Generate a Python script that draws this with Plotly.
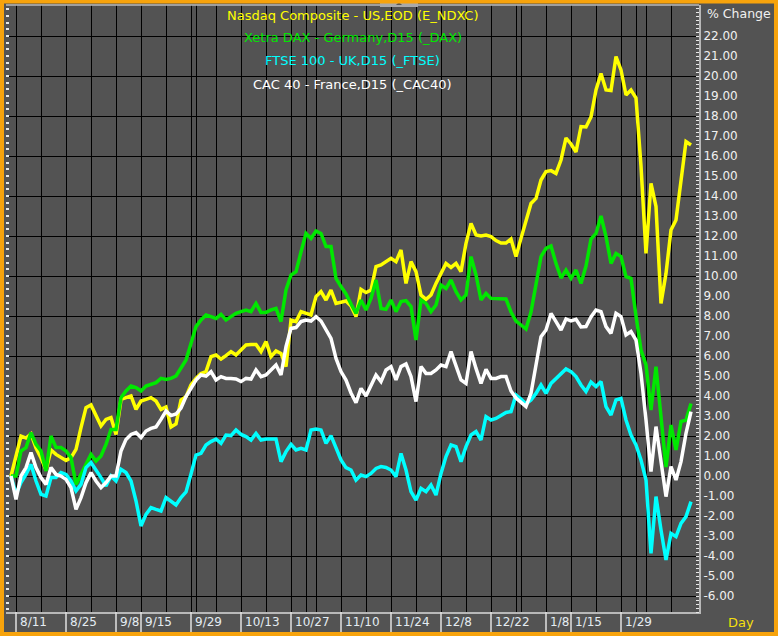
import plotly.graph_objects as go

# ---------------- data (percent change, one value per trading day) ----------------
nasdaq = [0, 1.0, 2.0, 1.9, 2.1, 1.4, 0.9, 0.3, 1.3, 1.08, 0.92, 0.78, 0.92, 1.33, 2.42, 3.42, 3.55, 3.0, 2.5, 2.83,
          2.92, 2.08, 3.83, 3.92, 4.0, 3.33, 3.75, 3.83, 3.92, 3.75, 3.33, 3.45, 2.45, 2.6, 3.8, 3.97, 4.55, 4.88, 5.13, 5.22,
          5.97, 6.05, 5.85, 6.02, 6.22, 6.05, 6.3, 6.55, 6.58, 6.58, 6.22, 6.72, 5.97, 6.25, 6.13, 5.47, 7.8, 7.72, 8.22, 8.13,
          8.05, 8.97, 9.22, 8.8, 9.3, 8.63, 8.68, 8.75, 8.5, 7.97, 9.33, 9.17, 9.3, 10.47, 10.55, 10.72, 10.88, 10.72, 11.3, 9.63,
          10.72, 10.22, 9.05, 8.83, 9.05, 9.63, 10.13, 10.63, 10.43, 10.63, 10.22, 11.63, 12.63, 12.05, 12.0, 12.05, 11.97, 11.77, 11.65, 11.65,
          11.85, 10.97, 11.88, 12.8, 13.63, 13.88, 14.8, 15.22, 15.27, 15.13, 15.8, 16.9, 16.6, 16.2, 17.47, 17.45, 17.95, 19.3, 20.13, 19.3,
          19.27, 20.97, 20.3, 19.05, 19.3, 18.9, 15.5, 11.13, 14.63, 13.47, 8.63, 10.13, 12.3, 12.8, 14.8, 16.72, 16.55]

dax = [0, 0, 1.25, 1.42, 2.17, 1.58, 1.25, 0.25, 2.0, 1.42, 1.42, 1.25, 0.92, -0.42, 0.08, 0.58, 1.08, 0.75, 1.0, 1.58,
       2.33, 2.33, 3.92, 4.25, 4.5, 4.42, 4.25, 4.5, 4.58, 4.67, 4.88, 4.83, 4.88, 5.0, 5.4, 5.8, 6.63, 7.47, 7.8, 8.05,
       7.97, 7.88, 8.08, 7.8, 7.97, 8.13, 8.22, 8.3, 8.22, 8.63, 8.18, 8.18, 8.3, 8.38, 7.72, 9.3, 10.05, 10.22, 11.2, 12.13,
       11.88, 12.25, 12.13, 11.47, 11.47, 9.88, 9.47, 9.1, 8.6, 8.13, 8.8, 8.3, 8.88, 9.8, 8.38, 8.33, 8.8, 8.22, 8.72, 8.77,
       8.47, 6.8, 8.8, 8.63, 8.22, 8.55, 9.55, 9.38, 9.8, 9.22, 8.8, 9.05, 10.97, 10.05, 8.8, 9.13, 8.88, 8.88, 8.88, 8.85,
       8.2, 7.75, 7.55, 7.35, 8.2, 9.63, 10.97, 11.38, 11.5, 10.63, 9.9, 10.3, 9.88, 10.3, 9.63, 10.5, 11.85, 12.13, 13.0, 11.97,
       10.63, 11.13, 10.97, 9.97, 9.88, 8.0, 6.3, 5.55, 3.3, 5.47, 2.8, 0.45, 2.55, 1.3, 2.72, 2.8, 3.63]

ftse = [0, -0.92, -0.33, 0.08, 0.58, -0.25, -0.92, -1.0, -0.08, -0.08, 0.17, 0.08, -0.25, -0.75, -0.42, 0.42, 0.67, 0.33, -0.08, -0.5,
        0, -0.25, 0.33, 0.17, -0.25, -1.25, -2.5, -1.92, -1.58, -1.67, -1.75, -1.08, -1.25, -1.45, -1.08, -0.8, 0.1, 1.05, 1.13, 1.55,
        1.72, 1.85, 1.63, 2.05, 2.02, 2.3, 2.08, 1.97, 1.8, 2.13, 1.8, 1.85, 1.85, 1.85, 0.72, 1.22, 1.58, 1.3, 1.38, 1.3,
        2.3, 2.35, 2.3, 1.63, 2.02, 1.38, 0.8, 0.42, 0.3, -0.2, 0.05, -0.03, 0.13, 0.38, 0.47, 0.43, 0.3, -0.03, 1.13, 0.3,
        -0.78, -1.2, -0.62, -0.78, -0.45, -0.95, 0.13, 0.97, 1.55, 1.47, 0.72, 1.47, 2.05, 2.22, 1.8, 2.97, 2.8, 2.88, 3.03, 3.18,
        3.22, 4.05, 3.85, 3.6, 3.8, 4.13, 4.55, 4.13, 4.63, 4.88, 5.1, 5.35, 5.22, 4.97, 4.55, 4.22, 4.7, 4.47, 4.72, 3.47,
        3.05, 3.8, 3.88, 2.8, 2.05, 1.55, 0.8, -0.2, -3.87, -1.03, -2.7, -4.2, -2.87, -3.03, -2.37, -2.03, -1.28]

cac = [0, -1.17, 0, 0.42, 1.17, 0.42, -0.08, -0.42, 0.42, 0.08, 0, -0.17, -0.58, -1.67, -1.08, -0.33, 0.17, -0.25, -0.58, -0.33,
       0, 0, 1.25, 1.83, 2.08, 2.17, 1.92, 2.25, 2.38, 2.45, 2.83, 3.25, 3.02, 3.1, 3.4, 3.97, 4.38, 4.8, 5.05, 5.0,
       5.22, 4.8, 4.97, 4.88, 4.88, 4.85, 4.72, 4.88, 4.85, 5.3, 4.97, 5.05, 5.3, 5.55, 5.05, 6.47, 7.38, 7.42, 7.72, 7.8,
       7.75, 7.97, 7.75, 7.3, 6.88, 5.88, 5.22, 4.8, 4.15, 3.67, 4.38, 4.0, 4.55, 5.05, 4.72, 5.3, 5.47, 4.8, 5.47, 5.6,
       4.97, 3.72, 5.47, 5.13, 5.13, 5.3, 5.55, 5.47, 6.22, 5.47, 4.8, 4.63, 6.22, 5.38, 4.63, 5.33, 4.88, 4.88, 4.97, 4.97,
       4.25, 3.9, 3.68, 3.47, 4.13, 5.63, 6.97, 7.3, 8.13, 7.72, 7.3, 7.85, 7.75, 7.83, 7.45, 7.47, 7.95, 8.3, 8.22, 7.47,
       7.13, 8.13, 7.97, 7.05, 7.22, 6.8, 5.13, 2.8, 0.22, 2.47, 0.63, -1.03, 0.47, -0.2, 0.72, 2.13, 3.22]

series_names = ["Nasdaq Composite - US,EOD (E_NDXC)", "Xetra DAX - Germany,D15 (_DAX)",
                "FTSE 100 - UK,D15 (_FTSE)", "CAC 40 - France,D15 (_CAC40)"]
series_values = [nasdaq, dax, ftse, cac]
series_colors = ["#ffff00", "#00e800", "#00ffff", "#ffffff"]

day_index = list(range(len(nasdaq)))                     # trading-day number
date_labels = ["8/11", "8/25", "9/8", "9/15", "9/29", "10/13", "10/27", "11/10",
               "11/24", "12/8", "12/22", "1/8", "1/15", "1/29"]
date_label_days = [1, 11, 21, 26, 36, 46, 56, 66, 76, 86, 96, 107, 112, 122]
grid_days = list(range(1, 102, 5)) + list(range(102, 133, 5)) + [37, 59, 125]
pct_ticks = list(range(-6, 23))

# ---------------- figure ----------------
W, H = 778, 636
ML, MR, MT, MB = 6, 79, 5, 24
PW, PH = W - ML - MR, H - MT - MB
FONT = "DejaVu Sans"
BG = "#535353"
ORANGE = "#f7a30c"


def px_x(px):
    return (px - ML) / PW


def px_y(py):
    return 1 - (py - MT) / PH


fig = go.Figure()
for name, vals, col in zip(series_names, series_values, series_colors):
    fig.add_trace(go.Scatter(x=day_index, y=vals, mode="lines", name=name,
                             line=dict(color=col, width=3.5), hoverinfo="skip"))

yr = [-6.8, 23.55]
fig.update_layout(
    width=W, height=H,
    margin=dict(l=ML, r=MR, t=MT, b=MB, autoexpand=False),
    paper_bgcolor=BG, plot_bgcolor=BG,
    showlegend=False,
    font=dict(family=FONT, color="#f0f0f0", size=12),
    xaxis=dict(range=[-1, 137.6], tickmode="array", tickvals=grid_days, showticklabels=False,
               ticks="", showgrid=True, gridcolor="#000000", gridwidth=1, zeroline=False,
               showline=True, linecolor="#b8b8b8", linewidth=2, automargin=False),
    yaxis=dict(range=yr, side="left", tick0=0, dtick=2, showticklabels=False, showgrid=True,
               gridcolor="#000000", gridwidth=1, zeroline=False, ticks="inside", ticklen=3,
               tickcolor="#e8e8e8", tickwidth=2, automargin=False,
               minor=dict(dtick=2 / 6, ticks="inside", ticklen=3, tickcolor="#e8e8e8", tickwidth=2,
                          showgrid=False)),
    yaxis2=dict(range=yr, overlaying="y", side="right", tickmode="array", tickvals=pct_ticks,
                ticktext=[f"{v:.2f}" for v in pct_ticks],
                showgrid=False, zeroline=False, ticks="", showline=True, linecolor="#b8b8b8",
                linewidth=2, automargin=False, tickfont=dict(family=FONT, size=12, color="#f0f0f0"),
                minor=dict(dtick=0.2, tick0=0, ticks="inside", ticklen=3, tickcolor="#e8e8e8",
                           tickwidth=1, showgrid=False)),
)

# invisible trace so that the right axis is rendered
fig.add_trace(go.Scatter(x=[day_index[0]], y=[0], yaxis="y2", mode="markers",
                         marker=dict(opacity=0), hoverinfo="skip", showlegend=False))

annotations = []
legend_y = [15, 38, 61, 84]
for name, col, py in zip(series_names, series_colors, legend_y):
    annotations.append(dict(text=name, x=0.5, y=px_y(py), xref="paper", yref="paper",
                            xanchor="center", yanchor="middle", showarrow=False,
                            font=dict(family=FONT, size=13, color=col)))
annotations.append(dict(text="% Change", x=px_x(705), y=px_y(14), xref="paper", yref="paper",
                        xanchor="left", yanchor="middle", showarrow=False,
                        font=dict(family=FONT, size=12.5, color="#f0f0f0")))
annotations.append(dict(text="Day", x=px_x(726), y=px_y(622), xref="paper", yref="paper",
                        xanchor="left", yanchor="middle", showarrow=False,
                        font=dict(family=FONT, size=13, color="#f2df0e")))
for lab, d in zip(date_labels, date_label_days):
    annotations.append(dict(text=lab, x=d, y=px_y(622), xref="x", yref="paper",
                            xanchor="left", yanchor="middle", xshift=2, showarrow=False,
                            font=dict(family=FONT, size=12, color="#e4ecf2")))

shapes = []
for d in date_label_days:
    shapes.append(dict(type="line", xref="x", yref="paper", x0=d, x1=d,
                       y0=px_y(612), y1=px_y(632), line=dict(color="#e0e0e0", width=1.5)))
# top plot edge
shapes.append(dict(type="line", xref="paper", yref="paper", x0=0, x1=1, y0=1, y1=1,
                   line=dict(color="#b8b8b8", width=1.5)))
# small handle tab at the top
shapes.append(dict(type="rect", xref="paper", yref="paper", x0=px_x(380), x1=px_x(418),
                   y0=px_y(7), y1=px_y(0), fillcolor="#a9a9a9", line=dict(width=0)))
shapes.append(dict(type="path", xref="paper", yref="paper",
                   path=f"M {px_x(396)} {px_y(5)} L {px_x(402)} {px_y(5)} L {px_x(399)} {px_y(2)} Z",
                   fillcolor="#555555", line=dict(width=0)))
# orange outer frame
shapes.append(dict(type="rect", xref="paper", yref="paper", x0=px_x(2), x1=px_x(776),
                   y0=px_y(634), y1=px_y(1.5), line=dict(color=ORANGE, width=4),
                   fillcolor="rgba(0,0,0,0)"))

fig.update_layout(annotations=annotations, shapes=shapes)

fig.write_html("out.html", config={"displayModeBar": False},
               post_script="document.body.style.margin='0';document.body.style.overflow='hidden';")
